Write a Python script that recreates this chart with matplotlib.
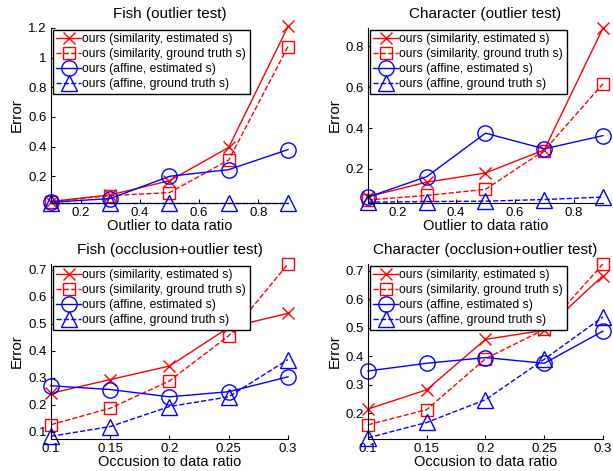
import matplotlib
matplotlib.use('Agg')
import matplotlib.pyplot as plt

plt.rcParams['font.family'] = ['Liberation Sans', 'DejaVu Sans']

# outlier test
outlier_x = [0.1, 0.3, 0.5, 0.7, 0.9]
fish_out_sim_est = [0.03, 0.075, 0.17, 0.395, 1.21]
fish_out_sim_gt = [0.03, 0.07, 0.09, 0.31, 1.075]
fish_out_aff_est = [0.025, 0.05, 0.2, 0.245, 0.38]
fish_out_aff_gt = [0.022, 0.022, 0.022, 0.022, 0.022]

char_out_sim_est = [0.064, 0.135, 0.18, 0.293, 0.89]
char_out_sim_gt = [0.048, 0.07, 0.10, 0.29, 0.617]
char_out_aff_est = [0.062, 0.162, 0.375, 0.298, 0.363]
char_out_aff_gt = [0.037, 0.04, 0.042, 0.05, 0.062]

# occlusion + outlier test
occl_x = [0.1, 0.15, 0.2, 0.25, 0.3]
fish_occ_sim_est = [0.243, 0.294, 0.344, 0.487, 0.539]
fish_occ_sim_gt = [0.127, 0.188, 0.289, 0.456, 0.722]
fish_occ_aff_est = [0.271, 0.257, 0.23, 0.249, 0.304]
fish_occ_aff_gt = [0.084, 0.12, 0.194, 0.23, 0.368]

char_occ_sim_est = [0.214, 0.282, 0.459, 0.491, 0.683]
char_occ_sim_gt = [0.159, 0.212, 0.391, 0.494, 0.724]
char_occ_aff_est = [0.348, 0.375, 0.395, 0.375, 0.488]
char_occ_aff_gt = [0.113, 0.167, 0.247, 0.389, 0.538]

labels = ['ours (similarity, estimated s)', 'ours (similarity, ground truth s)',
          'ours (affine, estimated s)', 'ours (affine, ground truth s)']

panels = [
    ('Fish (outlier test)', outlier_x, [fish_out_sim_est, fish_out_sim_gt, fish_out_aff_est, fish_out_aff_gt],
     'Outlier to data ratio', (0.1, 0.9), (0.02, 1.2), [0.2, 0.4, 0.6, 0.8], [0.2, 0.4, 0.6, 0.8, 1.0, 1.2],
     [0.0832, 0.569, 0.3866, 0.3716]),
    ('Character (outlier test)', outlier_x, [char_out_sim_est, char_out_sim_gt, char_out_aff_est, char_out_aff_gt],
     'Outlier to data ratio', (0.1, 0.9), (0.033, 0.89), [0.2, 0.4, 0.6, 0.8], [0.2, 0.4, 0.6, 0.8],
     [0.6003, 0.569, 0.3834, 0.3716]),
    ('Fish (occlusion+outlier test)', occl_x, [fish_occ_sim_est, fish_occ_sim_gt, fish_occ_aff_est, fish_occ_aff_gt],
     'Occusion to data ratio', (0.1, 0.3), (0.074, 0.722), occl_x, [0.1, 0.2, 0.3, 0.4, 0.5, 0.6, 0.7],
     [0.0832, 0.068, 0.3866, 0.3716]),
    ('Character (occlusion+outlier test)', occl_x, [char_occ_sim_est, char_occ_sim_gt, char_occ_aff_est, char_occ_aff_gt],
     'Occusion to data ratio', (0.1, 0.3), (0.109, 0.724), occl_x, [0.2, 0.3, 0.4, 0.5, 0.6, 0.7],
     [0.6003, 0.068, 0.3834, 0.3716]),
]

styles = [('r', '-', 'x', 8), ('r', '--', 's', 8), ('b', '-', 'o', 11), ('b', '--', '^', 11)]

fig = plt.figure(figsize=(6.13, 4.71), dpi=100)
for title, xs, series, xlabel, xlim, ylim, xticks, yticks, pos in panels:
    ax = fig.add_axes(pos)
    for ys, (c, ls, m, ms), lab in zip(series, styles, labels):
        ax.plot(xs, ys, color=c, linestyle=ls, marker=m, markersize=ms,
                markerfacecolor='none', markeredgecolor=c, linewidth=1, label=lab, clip_on=False)
    ax.set_xlim(xlim)
    ax.set_ylim(ylim)
    ax.set_xticks(xticks)
    ax.set_xticklabels(['%g' % t for t in xticks])
    ax.set_yticks(yticks)
    ax.set_yticklabels(['%g' % t for t in yticks])
    ax.spines['top'].set_visible(False)
    ax.spines['right'].set_visible(False)
    ax.tick_params(direction='in', length=3, labelsize=9.5, width=0.8, pad=3)
    ax.set_title(title, fontsize=11, pad=7)
    ax.set_xlabel(xlabel, fontsize=10.5, labelpad=0)
    ax.set_ylabel('Error', fontsize=11, labelpad=3)
    leg = ax.legend(loc='upper left', bbox_to_anchor=(0.0, 1.0), fontsize=8.7, numpoints=1,
                    handlelength=2.0, handletextpad=0.15, labelspacing=0.25, borderpad=0.3,
                    borderaxespad=0.15, fancybox=False, framealpha=1)
    leg.get_frame().set_edgecolor('black')
    leg.get_frame().set_linewidth(1)

plt.savefig('out.png', dpi=100)
